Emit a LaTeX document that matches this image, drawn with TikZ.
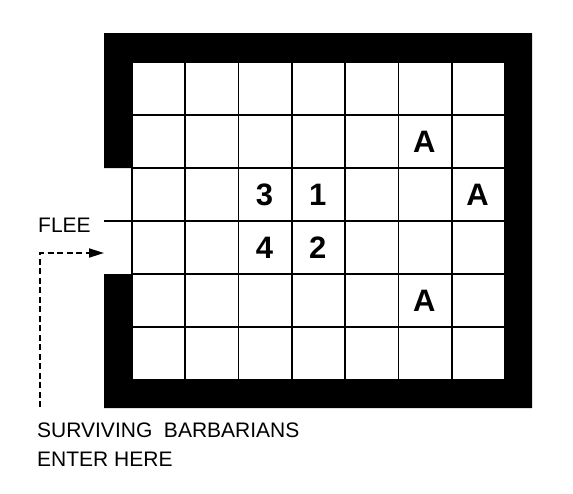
\documentclass[tikz,border=0pt]{standalone}
\usepackage{fontspec}
\setmainfont{Liberation Sans}
\usetikzlibrary{arrows.meta}

\begin{document}
\begin{tikzpicture}[
  x=1pt,y=-1pt,
  font=\fontsize{21}{29}\selectfont,
  wall/.style={fill=black},
  gridline/.style={line width=1.6pt},
  cell/.style={font=\fontsize{31}{31}\selectfont\bfseries,inner sep=0pt},
  lab/.style={inner sep=0pt,align=left},
  entry/.style={line width=1.8pt,dash pattern=on 6pt off 3.5pt,-{Triangle[length=15pt,width=9pt]}}
]
\useasboundingbox (0,0) rectangle (573,493);

% ---------- grid ----------
\foreach \i in {0,...,7}
  \draw[gridline] ({132+\i*53.29},62) -- ({132+\i*53.29},380);
\foreach \j in {0,1,2,4,5,6}
  \draw[gridline] (132,{62+\j*53}) -- (505,{62+\j*53});
\draw[gridline] (104,221) -- (505,221);

% ---------- walls ----------
\fill[wall] (104,168) -- (104,33) -- (532,33) -- (532,408) -- (104,408) -- (104,274)
  -- (132,274) -- (132,380) -- (505,380) -- (505,62) -- (132,62) -- (132,168) -- cycle;

% ---------- cells ----------
\node[cell] (c3) at (264.5,194.5) {3};
\node[cell] (c1) at (317.8,194.5) {1};
\node[cell] (c4) at (264.5,247.5) {4};
\node[cell] (c2) at (317.8,247.5) {2};
\node[cell] (a1) at (424.3,141.5) {A};
\node[cell] (a2) at (477.6,194.5) {A};
\node[cell] (a3) at (424.3,300.5) {A};

% ---------- labels ----------
\node[lab,anchor=base west] (flee) at (38,232) {FLEE};
\node[lab,anchor=north west] (enter) at (37,423) {SURVIVING\ \ BARBARIANS\\ENTER HERE};

\coordinate (foot) at (40,407);
\coordinate (door) at (104,253);
\draw[entry] (foot) |- (door);

\end{tikzpicture}
\end{document}
